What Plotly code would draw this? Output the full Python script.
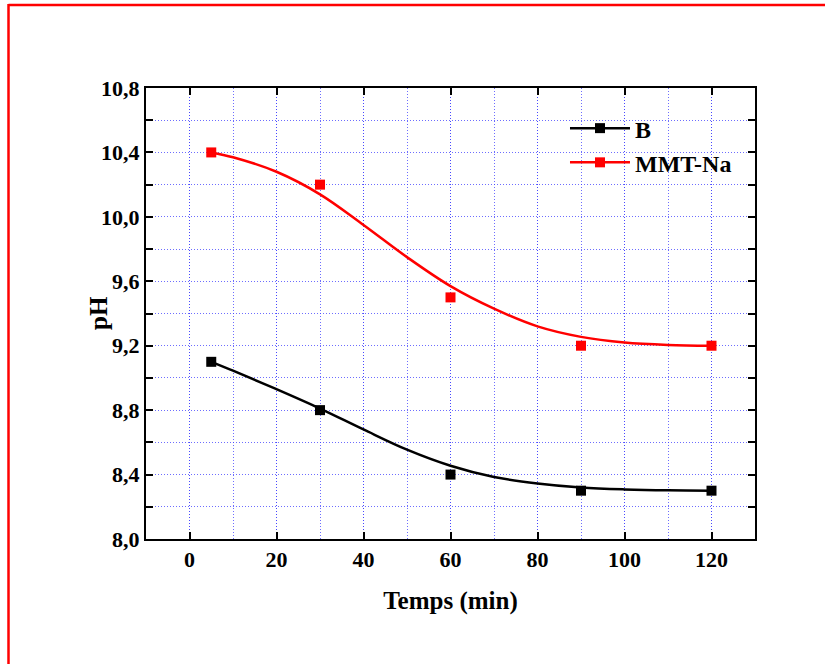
import plotly.graph_objects as go

# measured data points
time_pts = [5, 30, 60, 90, 120]
ph_B = [9.1, 8.8, 8.4, 8.3, 8.3]
ph_MMT = [10.4, 10.2, 9.5, 9.2, 9.2]

# smooth fitted curves
curve_t = [5, 10, 20, 30, 40, 50, 60, 70, 80, 90, 100, 110, 120]
curve_B = [9.10, 9.045, 8.93, 8.81, 8.68, 8.555, 8.455, 8.385, 8.345, 8.32, 8.308, 8.302, 8.30]
curve_MMT = [10.40, 10.37, 10.28, 10.14, 9.95, 9.75, 9.57, 9.43, 9.32, 9.255, 9.22, 9.205, 9.20]

x_ticks = [0, 20, 40, 60, 80, 100, 120]
y_ticks = [8.0, 8.2, 8.4, 8.6, 8.8, 9.0, 9.2, 9.4, 9.6, 9.8, 10.0, 10.2, 10.4, 10.6, 10.8]
y_text = ["8,0", "", "8,4", "", "8,8", "", "9,2", "", "9,6", "", "10,0", "", "10,4", "", "10,8"]

FONT = "Liberation Serif"
fig = go.Figure()

series = [("B", "black", curve_B, ph_B), ("MMT-Na", "#ff0000", curve_MMT, ph_MMT)]
for name, col, cv, pts in series:
    fig.add_trace(go.Scatter(x=curve_t, y=cv, mode="lines", line=dict(color=col, width=2.5, shape="spline", smoothing=1.0),
                             showlegend=False, hoverinfo="skip"))
    fig.add_trace(go.Scatter(x=time_pts, y=pts, mode="markers", marker=dict(symbol="square", size=10, color=col),
                             showlegend=False, name=name))
    fig.add_trace(go.Scatter(x=[None], y=[None], mode="lines+markers", name=name,
                             line=dict(color=col, width=2.5), marker=dict(symbol="square", size=10, color=col)))

grid_col = "rgba(60,60,255,0.75)"
gdash = "1px,2px"
fig.update_xaxes(range=[-10, 130], tickvals=x_ticks, ticks="inside", ticklen=7, tickwidth=2, tickcolor="black",
                 showline=True, linecolor="black", linewidth=2, mirror="allticks",
                 showgrid=True, gridcolor=grid_col, griddash=gdash, gridwidth=1,
                 minor=dict(dtick=10, tick0=0, showgrid=True, gridcolor=grid_col, griddash=gdash, gridwidth=1, ticks=""),
                 zeroline=False,
                 tickfont=dict(family=FONT, size=22, color="black", weight="bold"),
                 title=dict(text="Temps (min)", font=dict(family=FONT, size=25, color="black", weight="bold"), standoff=20))
fig.update_yaxes(range=[8.0, 10.8], tickvals=y_ticks, ticktext=y_text, ticks="inside", ticklen=7, tickwidth=2, tickcolor="black",
                 showline=True, linecolor="black", linewidth=2, mirror="allticks",
                 showgrid=True, gridcolor=grid_col, griddash=gdash, gridwidth=1, zeroline=False,
                 tickfont=dict(family=FONT, size=22, color="black", weight="bold"))

PW, PH_, L, B_ = 609, 451, 146, 539
def px(x):
    return (x - L) / PW
def py(y):
    return (B_ - y) / PH_

fig.update_layout(width=830, height=665, margin=dict(l=146, r=75, t=88, b=126),
                  paper_bgcolor="white", plot_bgcolor="white",
                  legend=dict(x=0.688, y=0.96, xanchor="left", yanchor="top", bgcolor="rgba(0,0,0,0)",
                              font=dict(family=FONT, size=24, color="black", weight="bold"),
                              itemwidth=60, tracegroupgap=0),
                  annotations=[dict(text="pH", xref="paper", yref="paper", x=px(98), y=py(313),
                                    xanchor="center", yanchor="middle", textangle=-90, showarrow=False,
                                    font=dict(family=FONT, size=25, color="black", weight="bold"))],
                  shapes=[
                      dict(type="line", xref="paper", yref="paper", x0=px(8.5), x1=px(8.5), y0=py(4), y1=py(664),
                           line=dict(color="red", width=2.5)),
                      dict(type="line", xref="paper", yref="paper", x0=px(8.5), x1=px(825), y0=py(5), y1=py(5),
                           line=dict(color="red", width=2.5)),
                  ])

fig.write_html("out.html")
